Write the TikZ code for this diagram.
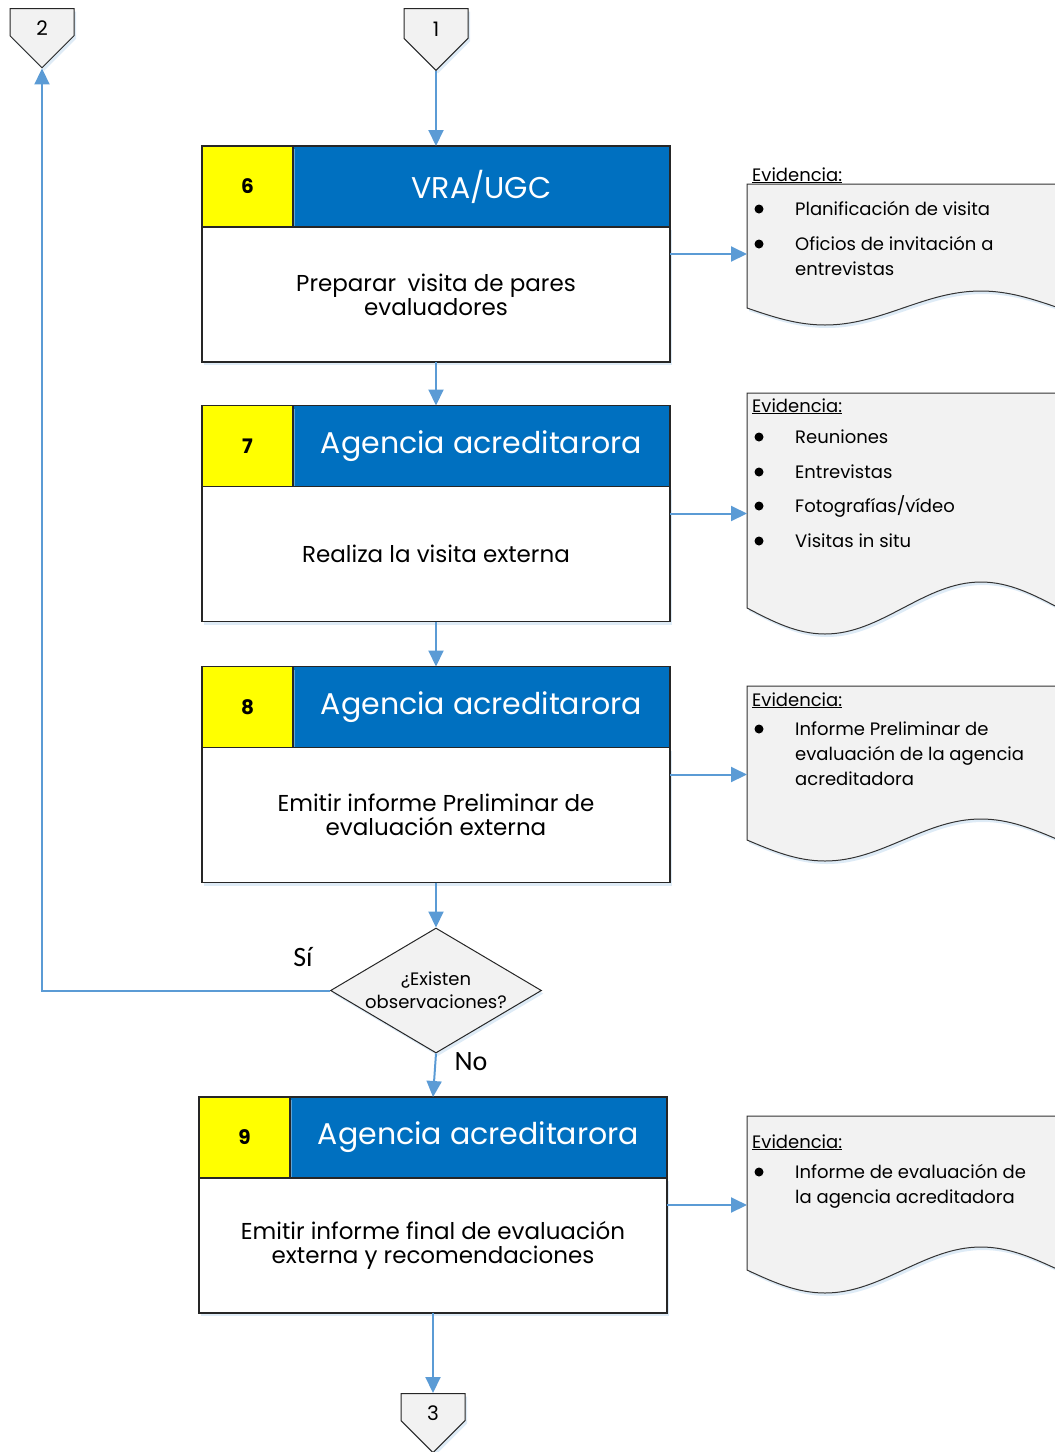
\documentclass[tikz,border=0pt]{standalone}
\usepackage{fontspec}
\setmainfont{Poppins}
\newfontfamily\calibri{Carlito}
\usetikzlibrary{
positioning,%
calc,%
arrows.meta,%
shapes.geometric,%
shapes.symbols,%
shadows
}
\definecolor{azulvra}{HTML}{0070C0}
\definecolor{azulflecha}{HTML}{5B9BD5}
\definecolor{grisdoc}{HTML}{F2F2F2}
\definecolor{amarillo}{HTML}{FFFF00}
\definecolor{sombra}{HTML}{BDD7EE}
\tikzset{
    sombreado/.style={drop shadow={shadow xshift=2pt, shadow yshift=-3pt, fill=sombra, opacity=0.5}},
    numero/.style={draw=black!85, line width=1.1, outer sep=0pt, fill=amarillo, minimum width=91, minimum height=81, inner sep=0pt, font=\fontsize{20}{24}\selectfont\bfseries, sombreado},
    titulo/.style={draw=black!85, line width=1.1, outer sep=0pt, fill=azulvra, text=white, minimum width=377, minimum height=81, inner sep=0pt, font=\fontsize{30}{36}\selectfont},
    cuerpo/.style={draw=black!85, line width=1.1, outer sep=0pt, fill=white, minimum width=468, minimum height=135, align=center, font=\fontsize{23}{24}\selectfont, sombreado},
    conector/.style={signal, signal to=south, signal from=nowhere, signal pointer angle=90, draw=black!85, line width=1, fill=grisdoc, minimum width=64, minimum height=33, inner sep=0pt, text height=27pt, text depth=0pt, font=\fontsize{20}{24}\selectfont, sombreado},
    decision/.style={diamond, aspect=1.69, draw=black!85, line width=1, fill=grisdoc, minimum width=211, minimum height=125, inner sep=0pt, sombreado},
    decitexto/.style={align=center, font=\fontsize{18}{23}\selectfont},
    documento/.style={draw=black!80, line width=1, fill=grisdoc, sombreado},
    evtitulo/.style={anchor=base west, inner sep=0pt, font=\fontsize{18}{20}\selectfont},
    evitem/.style={anchor=base west, inner sep=0pt, align=left, font=\fontsize{18}{25}\selectfont},
    rotulo/.style={font=\calibri\fontsize{28}{30}\selectfont},
    flecha/.style={draw=azulflecha, line width=2, -{Triangle[length=16, width=15]}}
}

\begin{document}
\begin{tikzpicture}[x=1pt, y=-1pt]
    \clip (0,0) rectangle (1055,1452);
    % ---- conectores de pagina
    \node[conector, anchor=north] (c1) at (436,8) {1};
    \node[conector, anchor=north] (c2) at (42,8) {2};
    \node[conector, anchor=north] (c3) at (433,1393) {3};
    % ---- paso 6
    \node[titulo] (t6) at (481.5,186.5) {VRA/UGC};
    \node[numero, left=0pt of t6] (n6) {6};
    \node[cuerpo, anchor=north west] (b6) at (n6.south west) {Preparar\enspace visita de pares\\evaluadores};
    % ---- paso 7
    \node[titulo] (t7) at (481.5,446) {Agencia acreditarora};
    \node[numero, left=0pt of t7] (n7) {7};
    \node[cuerpo, anchor=north west] (b7) at (n7.south west) {Realiza la visita externa};
    % ---- paso 8
    \node[titulo] (t8) at (481.5,707) {Agencia acreditarora};
    \node[numero, left=0pt of t8] (n8) {8};
    \node[cuerpo, anchor=north west] (b8) at (n8.south west) {Emitir informe Preliminar de\\evaluación externa};
    % ---- decision
    \node[decision] (dec) at (436,990.5) {};
    \node[decitexto] (dect) at (dec) {¿Existen\\observaciones?};
    \node[rotulo] (si) at (303,957) {Sí};
    \node[rotulo] (no) at (471,1062) {No};
    % ---- paso 9
    \node[titulo] (t9) at (478.5,1137.5) {Agencia acreditarora};
    \node[numero, left=0pt of t9] (n9) {9};
    \node[cuerpo, anchor=north west] (b9) at (n9.south west) {Emitir informe final de evaluación\\externa y recomendaciones};
    % ---- documentos de evidencia
    \coordinate (d6) at (747,184);
    \coordinate (d7) at (747,393);
    \coordinate (d8) at (747,686);
    \coordinate (d9) at (747,1116);
    \path[documento] (d6) -- (1059,184) -- (1059,308) sin (981,291) cos (903,308) sin (825,325) cos (747,308) -- cycle;
    \path[documento] (d7) -- (1059,393) -- (1059,608) sin (981,582) cos (903,608) sin (825,634) cos (747,608) -- cycle;
    \path[documento] (d8) -- (1059,686) -- (1059,840) sin (981,819) cos (903,840) sin (825,861) cos (747,840) -- cycle;
    \path[documento] (d9) -- (1059,1116) -- (1059,1270) sin (981,1247) cos (903,1270) sin (825,1293) cos (747,1270) -- cycle;
    % (multi-line items are placed by their last line)
    \node[evtitulo] (ev6) at (752,181) {\underline{Evidencia:}};
    \node[evitem] (ev6a) at (795,215) {Planificación de visita};
    \node[evitem] (ev6b) at (795,275) {Oficios de invitación a\\entrevistas};
    \foreach \y in {215,250} \fill ({759},{\y-6}) circle (4.5);
    %
    \node[evtitulo] (ev7) at (752,412) {\underline{Evidencia:}};
    \node[evitem] (ev7a) at (795,443) {Reuniones};
    \node[evitem] (ev7b) at (795,478) {Entrevistas};
    \node[evitem] (ev7c) at (795,512) {Fotografías/vídeo};
    \node[evitem] (ev7d) at (795,547) {Visitas in situ};
    \foreach \y in {443,478,512,547} \fill ({759},{\y-6}) circle (4.5);
    %
    \node[evtitulo] (ev8) at (752,706) {\underline{Evidencia:}};
    \node[evitem] (ev8a) at (795,785) {Informe Preliminar de\\evaluación de la agencia\\acreditadora};
    \fill (759,729) circle (4.5);
    %
    \node[evtitulo] (ev9) at (752,1148) {\underline{Evidencia:}};
    \node[evitem] (ev9a) at (795,1203) {Informe de evaluación de\\la agencia acreditadora};
    \fill (759,1172) circle (4.5);
    % ---- flechas
    \draw[flecha] (c1.south) -- (c1.south |- t6.north);
    \draw[flecha] (b6.south) -- (b6.south |- t7.north);
    \draw[flecha] (b7.south) -- (b7.south |- t8.north);
    \draw[flecha] (b8.south) -- (dec.north);
    \draw[flecha] (dec.west) -| (c2.south);
    \draw[flecha] (dec.south) -- (b9.north |- t9.north);
    \draw[flecha] (b9.south) -- (c3.north);
    %
    \coordinate (m6) at ($(t6.north)!.5!(b6.south)$);
    \coordinate (m7) at ($(t7.north)!.5!(b7.south)$);
    \coordinate (m8) at ($(t8.north)!.5!(b8.south)$);
    \coordinate (m9) at ($(t9.north)!.5!(b9.south)$);
    \draw[flecha] (m6 -| b6.east) -- (m6 -| d6);
    \draw[flecha] (m7 -| b7.east) -- (m7 -| d7);
    \draw[flecha] (m8 -| b8.east) -- (m8 -| d8);
    \draw[flecha] (m9 -| b9.east) -- (m9 -| d9);
\end{tikzpicture}
\end{document}
